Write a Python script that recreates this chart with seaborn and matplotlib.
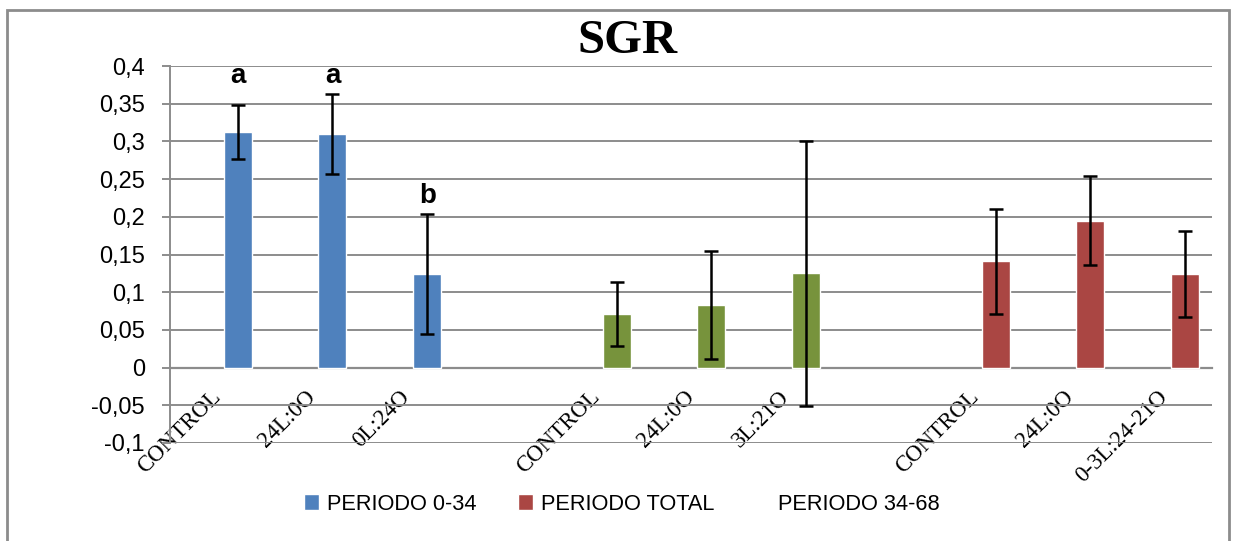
import numpy as np
import pandas as pd
import matplotlib
matplotlib.use("Agg")
import matplotlib.pyplot as plt
from matplotlib.patches import Patch, Rectangle
import seaborn as sns

# Specific growth rate per treatment, grouped by period
grupos = ["PERIODO 0-34", "PERIODO 34-68", "PERIODO TOTAL"]
tratamientos = [
    ["CONTROL", "24L:0O", "0L:24O"],
    ["CONTROL", "24L:0O", "3L:21O"],
    ["CONTROL", "24L:0O", "0-3L:24-21O"],
]
sgr = [0.312, 0.310, 0.124, 0.071, 0.083, 0.125, 0.141, 0.195, 0.124]
error = [0.036, 0.053, 0.080, 0.043, 0.072, 0.176, 0.070, 0.059, 0.057]
letras = ["a", "a", "b", "", "", "", "", "", ""]

legend_labels = ["PERIODO 0-34", "PERIODO TOTAL", "PERIODO 34-68"]
colores = {"PERIODO 0-34": "#4F81BD", "PERIODO 34-68": "#77933C",
           "PERIODO TOTAL": "#AA4643"}

# one empty category slot between groups
slot_labels = []
periodo = []
for g, (nombre, trats) in enumerate(zip(grupos, tratamientos)):
    slot_labels += trats
    periodo += [nombre] * len(trats)
    if g < len(grupos) - 1:
        slot_labels.append("")
slots = [i for i, lab in enumerate(slot_labels) if lab]

BAR_SHIFT = 0.215
BAR_WIDTH = 0.296
df = pd.DataFrame({"pos": np.array(slots) + BAR_SHIFT, "sgr": sgr,
                   "err": error, "periodo": periodo, "letra": letras})

sns.set_style("white")
plt.rcParams["font.family"] = ["Liberation Sans", "DejaVu Sans"]
plt.rcParams["text.color"] = "black"
plt.rcParams["xtick.labelcolor"] = "black"
plt.rcParams["ytick.labelcolor"] = "black"

W, H = 1237, 541
fig = plt.figure(figsize=(W / 100, H / 100), dpi=100)
ax = fig.add_axes([170 / W, 1 - 443 / H, (1212 - 170) / W, (443 - 66) / H])

grid_c = "#8C8C8C"
sns.barplot(data=df, x="pos", y="sgr", hue="periodo", palette=colores,
            native_scale=True, width=BAR_WIDTH, dodge=False, errorbar=None,
            saturation=1, legend=False, ax=ax, zorder=3)
ax.errorbar(df["pos"], df["sgr"], yerr=df["err"], fmt="none", ecolor="black",
            elinewidth=1.8, capsize=5, capthick=1.8, zorder=4)

# significance letters above the error bars
tops = df["sgr"] + df["err"]
for letra in sorted(set(l for l in letras if l)):
    sel = df["letra"] == letra
    y = tops[sel].max() + 0.014
    for x in df.loc[sel, "pos"]:
        ax.text(x, y, letra, ha="center", va="baseline", fontsize=20,
                fontweight="bold", color="black", zorder=5)

# axis lines first: moving a spine resets its ticks
for s in ["top", "right"]:
    ax.spines[s].set_visible(False)
ax.spines["bottom"].set_position(("data", 0))
ax.spines["bottom"].set_color(grid_c)
ax.spines["bottom"].set_linewidth(1.6)
ax.spines["left"].set_color(grid_c)
ax.spines["left"].set_linewidth(1.4)

ax.set_xlim(-0.5, len(slot_labels) - 0.5)
ax.set_ylim(-0.1, 0.4)
yt = np.round(np.arange(-0.1, 0.4001, 0.05), 2)
ax.set_yticks(yt)
ax.set_yticklabels([f"{v:g}".replace(".", ",") for v in yt], fontsize=17)
ax.yaxis.grid(True, color=grid_c, lw=1.4, zorder=0)
ax.xaxis.grid(False)
ax.set_axisbelow(True)
ax.set_xlabel("")
ax.set_ylabel("")

# category labels on major ticks, tick marks between categories on minor ticks
ax.set_xticks(np.arange(len(slot_labels)))
ax.set_xticks(np.arange(-0.5, len(slot_labels)), minor=True)
ax.tick_params(axis="x", which="major", length=0, pad=19,
               labelcolor="black")
ax.tick_params(axis="x", which="minor", direction="out", length=5,
               width=1.4, color=grid_c)
ax.tick_params(axis="y", direction="out", length=6, width=1.4, color=grid_c,
               pad=12, left=True, labelcolor="black")
ax.set_xticklabels(slot_labels, rotation=45, ha="right", va="center",
                   rotation_mode="anchor", fontsize=16.5,
                   family="Liberation Serif", color="black")

fig.text(627 / W, 1 - 41 / H, "SGR", ha="center", va="center", fontsize=35,
         fontweight="bold", family="Liberation Serif", color="black")

handles = [Patch(facecolor=colores["PERIODO 0-34"]),
           Patch(facecolor=colores["PERIODO TOTAL"]),
           Patch(facecolor="none", edgecolor="none")]
leg = fig.legend(handles, legend_labels, loc="center",
                 bbox_to_anchor=(622 / W, 1 - 504 / H), ncol=3,
                 frameon=False, fontsize=15.7, handlelength=0.7,
                 handleheight=0.7, handletextpad=0.35, columnspacing=1.9,
                 labelcolor="black")

fig.patches.append(Rectangle((7 / W, -0.1), (1229 - 7) / W, 1.1 - 10 / H,
                             transform=fig.transFigure, fill=False,
                             edgecolor="#8C8C8C", lw=2))

fig.savefig("out.png", dpi=100)
